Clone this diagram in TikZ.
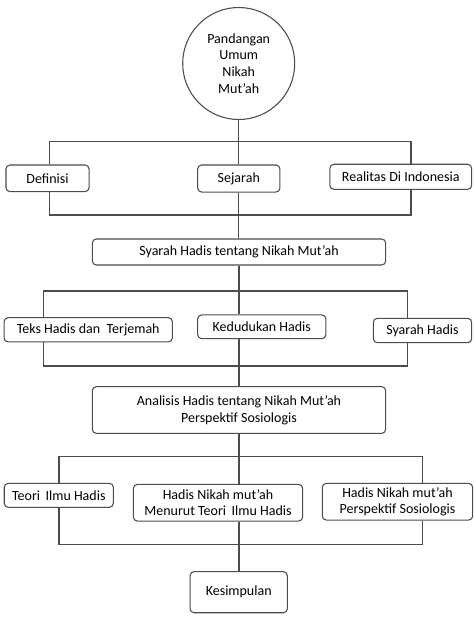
\documentclass[tikz,border=0pt]{standalone}
\usepackage{fontspec}
\setmainfont{Carlito}
\usetikzlibrary{positioning, calc}
\tikzset{
  box/.style={draw=black!70, line width=0.8pt, rounded corners=3pt, align=center,
    inner sep=0pt, font=\fontsize{10.5}{12.6}\selectfont},
  link/.style={draw=black!70, line width=0.8pt},
}

\begin{document}
\begin{tikzpicture}[x=0.75pt, y=-0.75pt]
\useasboundingbox (0,0) rectangle (474,619);
% Top circle
\node[circle, draw=black!70, line width=0.8pt, minimum size=84pt, inner sep=0pt,
  align=center, font=\fontsize{10.5}{12.6}\selectfont] (pandangan) at (238.7,63.5)
  {Pandangan\\Umum\\Nikah\\Mut’ah};
% First row
\node[box, minimum width=62.3pt, minimum height=20pt] (definisi) at (47.5,178.3) {Definisi};
\node[box, minimum width=61.7pt, minimum height=20.3pt] (sejarah) at (238.8,178.5) {Sejarah};
\node[box, minimum width=106.3pt, minimum height=18.8pt] (realitas) at (400.8,176.8) {Realitas Di Indonesia};
\node[box, minimum width=220pt, minimum height=19.5pt] (syarahnikah) at (239,252) {Syarah Hadis tentang Nikah Mut’ah};
% Second row
\node[box, minimum width=126.2pt, minimum height=18.2pt] (teks) at (88.2,329.8) {Teks Hadis dan \ Terjemah};
\node[box, minimum width=96.2pt, minimum height=17.8pt] (kedudukan) at (261.8,326.8) {Kedudukan Hadis};
\node[box, minimum width=73.8pt, minimum height=18.3pt] (syarah) at (422.5,330.5) {Syarah Hadis};
\node[box, minimum width=220pt, minimum height=35pt] (analisis) at (239,410)
  {Analisis Hadis tentang Nikah Mut’ah\\Perspektif Sosiologis};
% Third row
\node[box, minimum width=81.8pt, minimum height=18pt] (teori) at (58.8,495.3) {Teori \,Ilmu Hadis};
\node[box, minimum width=127pt, minimum height=27.5pt] (menurut) at (218,502.7)
  {Hadis Nikah mut’ah\\Menurut Teori \,Ilmu Hadis};
\node[box, minimum width=112.8pt, minimum height=27.5pt] (perspektif) at (397.5,501.7)
  {Hadis Nikah mut’ah\\Perspektif Sosiologis};
\node[box, minimum width=73pt, minimum height=30.8pt] (kesimpulan) at (238.7,592.2) {Kesimpulan};

% Bar ends
\foreach \n/\y/\l/\r in {a/141.3/49.3/411, b/215/49.3/411, c/291/43.3/407.3,
    d/366/43.3/407.3, e/456.7/59/422.7, f/544.3/59/422.7} {
  \coordinate (\n l) at (\l,\y);
  \coordinate (\n r) at (\r,\y);
}

% Trunk
\draw[link] (pandangan.south) -- (pandangan.south |- sejarah.north);
\draw[link] (sejarah.south) -- (syarahnikah.north -| sejarah.south);
\draw[link] (syarahnikah.south) -- (syarahnikah.south |- kedudukan.north);
\draw[link] (kedudukan.south -| syarahnikah.south) -- (analisis.north);
\draw[link] (analisis.south) -- (analisis.south |- menurut.north);
\draw[link] (menurut.south -| analisis.south) -- (kesimpulan.north -| analisis.south);

% Bars with branches
\draw[link] (al |- definisi.north) -- (al) -- (ar) -- (ar |- realitas.north);
\draw[link] (bl |- definisi.south) -- (bl) -- (br) -- (br |- realitas.south);
\draw[link] (cl |- teks.north) -- (cl) -- (cr) -- (cr |- syarah.north);
\draw[link] (dl |- teks.south) -- (dl) -- (dr) -- (dr |- syarah.south);
\draw[link] (el |- teori.north) -- (el) -- (er) -- (er |- perspektif.north);
\draw[link] (fl |- teori.south) -- (fl) -- (fr) -- (fr |- perspektif.south);
\end{tikzpicture}
\end{document}
